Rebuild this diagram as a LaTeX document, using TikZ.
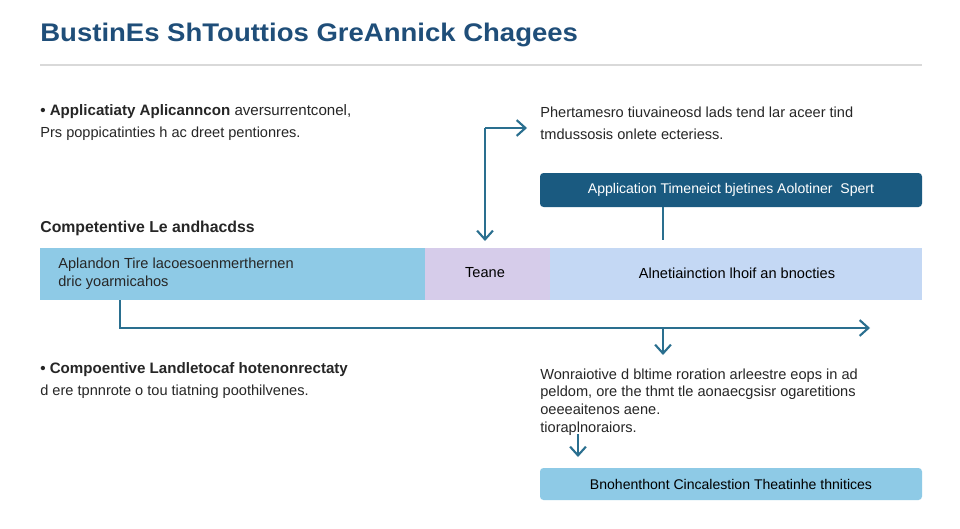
\documentclass[tikz,border=0pt]{standalone}
\usepackage{fontspec}
\setmainfont{Liberation Sans}
\usetikzlibrary{arrows.meta}
\definecolor{ttl}{HTML}{1F4E79}
\definecolor{dk}{HTML}{1A5A80}
\definecolor{ln}{HTML}{2A6F8F}
\definecolor{lb}{HTML}{8ECAE6}
\definecolor{lv}{HTML}{D6CCEA}
\definecolor{pb}{HTML}{C4D8F4}
\begin{document}
\begin{tikzpicture}[x=0.02cm,y=-0.02cm,
 txt/.style={anchor=west,inner sep=0,font=\fontsize{8.3}{10}\selectfont,text=black!85},
 bld/.style={txt,font=\fontsize{8.6}{10}\selectfont\bfseries},
 con/.style={draw=ln,line width=1.2pt},
 arr/.style={con,-{Straight Barb[length=5pt,width=9pt]}}]
\useasboundingbox (0,0) rectangle (960,528);
\fill[white] (0,0) rectangle (960,528);
\node[anchor=west,inner sep=0,font=\fontsize{14.5}{16}\selectfont\bfseries,text=ttl,xscale=1.08] (title) at (40,35) {BustinEs ShTouttios GreAnnick Chagees};
\draw[black!15,line width=0.6pt] (40,65) -- (922,65);
\node[bld] (b1) at (40,112) {• Applicatiaty Aplicanncon {\mdseries aversurrentconel,}};
\node[txt] (b1b) at (40,134) {Prs poppicatinties h ac dreet pentionres.};
\node[txt] (r1) at (540,112) {Phertamesro tiuvaineosd lads tend lar aceer tind};
\node[txt] (r1b) at (540,134) {tmdussosis onlete ecteriess.};
\node[fill=dk,rounded corners=2pt,minimum width=382*0.02cm,minimum height=34*0.02cm,inner sep=0,text=white,font=\fontsize{8}{10}\selectfont] (box1) at (731,190) {Application Timeneict bjetines Aolotiner \ Spert};
\node[bld,font=\fontsize{9}{10}\selectfont\bfseries] (comp) at (40,228) {Competentive Le andhacdss};
\fill[lb] (40,248) rectangle (425,300);
\fill[lv] (425,248) rectangle (550,300);
\fill[pb] (550,248) rectangle (922,300);
\node[txt,align=left] (s1) at (58,274) {Aplandon Tire lacoesoenmerthernen\\dric yoarmicahos};
\node[inner sep=0,font=\fontsize{8.3}{10}\selectfont] (s2) at (485,273) {Teane};
\node[inner sep=0,font=\fontsize{8.3}{10}\selectfont] (s3) at (737,273) {Alnetiainction lhoif an bnocties};
\coordinate (top) at (485,128);
\coordinate (topr) at (527,128);
\coordinate (bandtop) at (485,241);
\draw[arr] (top) -- (topr);
\draw[arr] (top) -- (bandtop);
\draw[con] (box1.south -| 663,0) -- (663,240);
\coordinate (l0) at (120,300);
\coordinate (l1) at (120,328);
\coordinate (l2) at (870,328);
\draw[arr] (l0) -- (l1) -- (l2);
\coordinate (d0) at (663,328);
\coordinate (d1) at (663,355);
\draw[arr] (d0) -- (d1);
\node[bld] (b2) at (40,370) {• Compoentive Landletocaf hotenonrectaty};
\node[txt] (b2b) at (40,392) {d ere tpnnrote o tou tiatning poothilvenes.};
\node[txt,align=left] (r2) at (540,402) {Wonraiotive d bltime roration arleestre eops in ad\\peldom, ore the thmt tle aonaecgsisr ogaretitions\\oeeeaitenos aene.\\tioraplnoraiors.};
\coordinate (e0) at (578,434);
\node[fill=lb,rounded corners=2pt,minimum width=382*0.02cm,minimum height=32*0.02cm,inner sep=0,font=\fontsize{8}{10}\selectfont] (box2) at (731,484) {Bnohenthont Cincalestion Theatinhe thnitices};
\draw[arr] (e0) -- (578,457);
\end{tikzpicture}
\end{document}
